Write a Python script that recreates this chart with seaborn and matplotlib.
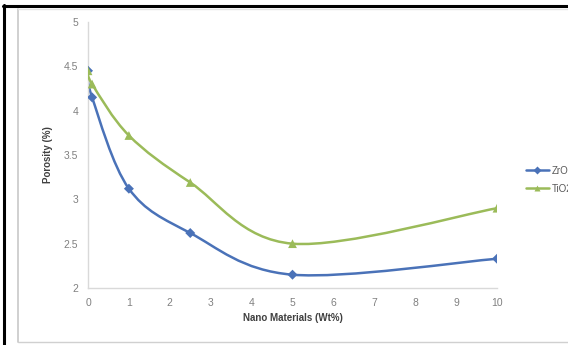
import numpy as np
import pandas as pd
import matplotlib
matplotlib.use("Agg")
import matplotlib.pyplot as plt
from matplotlib.path import Path
from matplotlib.patches import PathPatch
from matplotlib.lines import Line2D
import seaborn as sns

# Porosity vs. nano-material content
wt_pct = [0, 0.1, 1, 2.5, 5, 10]
zr_porosity = [4.45, 4.15, 3.12, 2.62, 2.15, 2.33]
ti_porosity = [4.45, 4.30, 3.72, 3.19, 2.50, 2.90]
series_names = ["ZrO2", "TiO2"]
series_colors = ["#4a72b8", "#9bbb59"]
series_markers = ["D", "^"]
marker_sizes = [26, 40]
x_ticks = list(range(0, 11))
y_ticks = [2, 2.5, 3, 3.5, 4, 4.5, 5]
y_tick_labels = ["2", "2.5", "3", "3.5", "4", "4.5", "5"]

sns.set_style("white")
plt.rcParams["font.family"] = ["Liberation Sans", "DejaVu Sans"]

W, H = 568, 345
fig = plt.figure(figsize=(W / 100, H / 100), dpi=100)
fig.patch.set_facecolor("white")
ax = fig.add_axes([88 / W, 1 - 288 / H, (497 - 88) / W, (288 - 22) / H])

df = pd.DataFrame({
    "wt": wt_pct * 2,
    "porosity": zr_porosity + ti_porosity,
    "series": [series_names[0]] * len(wt_pct) + [series_names[1]] * len(wt_pct),
})


def smooth_path(xs, ys):
    """Cubic Bezier path through the points (Catmull-Rom style smoothing)."""
    pts = np.column_stack([xs, ys]).astype(float)
    n = len(pts)
    verts = [pts[0]]
    codes = [Path.MOVETO]
    for i in range(n - 1):
        p0 = pts[i - 1] if i > 0 else pts[i]
        p1 = pts[i]
        p2 = pts[i + 1]
        p3 = pts[i + 2] if i + 2 < n else pts[i + 1]
        c1 = p1 + (p2 - p0) / 6.0
        c2 = p2 - (p3 - p1) / 6.0
        verts += [c1, c2, p2]
        codes += [Path.CURVE4] * 3
    return Path(verts, codes)


for k, (name, color, mk, ms) in enumerate(zip(series_names, series_colors,
                                             series_markers, marker_sizes)):
    sub = df[df["series"] == name]
    ax.add_patch(PathPatch(smooth_path(sub["wt"], sub["porosity"]),
                           facecolor="none", edgecolor=color, lw=1.8,
                           transform=ax.transData, zorder=2 + 2 * k))
    sns.scatterplot(data=sub, x="wt", y="porosity", color=color, marker=mk,
                    s=ms, edgecolor="none", legend=False, ax=ax,
                    zorder=3 + 2 * k)

ax.set_xlim(0, 10)
ax.set_ylim(2, 5)
ax.set_xticks(x_ticks)
ax.set_yticks(y_ticks)
ax.set_yticklabels(y_tick_labels)
ax.tick_params(axis="both", length=0, labelsize=7.5, colors="#808080", pad=7)
for side in ["top", "right"]:
    ax.spines[side].set_visible(False)
for side in ["left", "bottom"]:
    ax.spines[side].set_color("#d9d9d9")
    ax.spines[side].set_linewidth(1.0)

ax.set_xlabel("Nano Materials (Wt%)", fontsize=7, fontweight="bold",
              color="#404040", labelpad=4)
ax.set_ylabel("Porosity (%)", fontsize=7, fontweight="bold",
              color="#404040", labelpad=8)

handles = [Line2D([0], [0], color=c, lw=1.8, marker=m, markersize=4,
                  markeredgecolor="none")
           for c, m in zip(series_colors, series_markers)]
fig.legend(handles, series_names, loc="upper left",
           bbox_to_anchor=(517 / W, 1 - 157 / H), frameon=False,
           fontsize=7, labelcolor="#595959", handlelength=2.4,
           handletextpad=0.3, labelspacing=0.8)

# outer frame: black edges on top/left, light grey inner border
fig.add_artist(Line2D([4 / W, 4 / W], [0, 1 - 5 / H], color="black", lw=2.2))
fig.add_artist(Line2D([3 / W, 1], [1 - 6 / H, 1 - 6 / H], color="black", lw=2.2))
fig.add_artist(Line2D([18 / W, 18 / W], [1 - 342 / H, 1 - 9 / H],
                      color="#c8c8c8", lw=1.2))
fig.add_artist(Line2D([18 / W, 1], [1 - 9 / H, 1 - 9 / H], color="#e4e4e4", lw=1.0))
fig.add_artist(Line2D([18 / W, 1], [1 - 342 / H, 1 - 342 / H],
                      color="#d0d0d0", lw=1.0))

fig.savefig("out.png", dpi=100)
